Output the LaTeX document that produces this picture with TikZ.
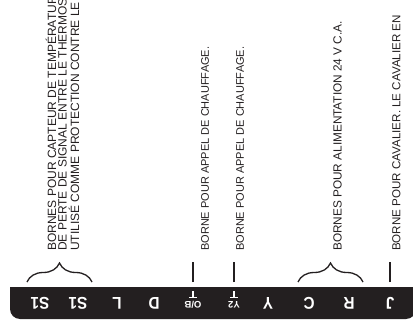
\documentclass[tikz,border=0pt]{standalone}
\usepackage{fontspec}
\setmainfont{Liberation Sans}
\usetikzlibrary{decorations.pathreplacing}
\definecolor{ink}{HTML}{231F20}
\newcommand\cnd[1]{\scalebox{0.9}[1]{#1}}
\begin{document}
\begin{tikzpicture}[x=1pt,y=1pt,
  desc/.style={rotate=90,anchor=west,inner sep=0pt,font=\fontsize{11.6}{13}\selectfont,text=ink},
  term/.style={rotate=180,inner sep=0pt,text=white,font=\fontsize{17}{19}\selectfont\bfseries},
  smallterm/.style={rotate=180,inner sep=0pt,text=white,font=\fontsize{9.5}{11}\selectfont\bfseries},
  tee/.style={draw=white,line width=1.4pt},
  conn/.style={draw=ink,line width=1.3pt},
  brc/.style={conn,decorate,decoration={brace,amplitude=19pt}}]
\useasboundingbox (0,0) rectangle (413,322);
\clip (0,0) rectangle (413,322);
% terminal strip
\fill[ink] (10,35) -- (416,35) -- (416,13) arc[start angle=0,end angle=-90,radius=10]
  -- (20,3) arc[start angle=270,end angle=180,radius=10] -- cycle;
% terminal labels
\node[term] (tS1a) at (40,19) {\cnd{S1}};
\node[term] (tS1b) at (78,19) {\cnd{S1}};
\node[term] (tL)   at (117,19) {\cnd{L}};
\node[term] (tD)   at (154,19) {\cnd{D}};
\node[smallterm] (tOB) at (193,17.5) {O/B};
\node[smallterm] (tY2) at (234,17.5) {Y2};
\node[term] (tY)   at (268,19) {\cnd{Y}};
\node[term] (tC)   at (309,19) {\cnd{C}};
\node[term] (tR)   at (349,19) {\cnd{R}};
\node[term] (tJ)   at (390,19) {\cnd{J}};
% tee marks above small labels
\coordinate (teebar) at (0,24.5);
\coordinate (teetop) at (0,31);
\draw[tee] (tOB |- teebar) -- (tOB |- teetop);
\draw[tee] ([xshift=-4pt]tOB |- teebar) -- ([xshift=4pt]tOB |- teebar);
\draw[tee] (tY2 |- teebar) -- (tY2 |- teetop);
\draw[tee] ([xshift=-4pt]tY2 |- teebar) -- ([xshift=4pt]tY2 |- teebar);
% descriptions
\node[desc,font=\fontsize{12}{13}\selectfont] (d1a) at (51,71) {BORNES POUR CAPTEUR DE TEMPÉRATURE};
\node[desc,font=\fontsize{12}{13}\selectfont] (d1b) at (62.5,71) {DE PERTE DE SIGNAL ENTRE LE THERMOSTAT};
\node[desc,font=\fontsize{12}{13}\selectfont] (d1c) at (74,71) {UTILISÉ COMME PROTECTION CONTRE LE};
\node[desc,font=\fontsize{11}{13}\selectfont] (dOB) at (205,71) {BORNE POUR APPEL DE CHAUFFAGE.};
\node[desc,font=\fontsize{11}{13}\selectfont] (dY2) at (240,71) {BORNE POUR APPEL DE CHAUFFAGE.};
\node[desc,font=\fontsize{11.8}{13}\selectfont] (dRC) at (337.5,71) {BORNES POUR ALIMENTATION 24 V C.A.};
\node[desc] (dJ)  at (396.5,71) {BORNE POUR CAVALIER. LE CAVALIER EN};
% connectors
\coordinate (base) at (0,40);
\coordinate (top) at (0,60);
\coordinate (bS1l) at (27,40);
\coordinate (bS1r) at (92,40);
\coordinate (bRCl) at (298,40);
\coordinate (bRCr) at (363,40);
\draw[brc] (bS1l) -- (bS1r);
\draw[brc] (bRCl) -- (bRCr);
\draw[conn] (tOB |- base) -- (tOB |- top);
\draw[conn] (tY2 |- base) -- (tY2 |- top);
\draw[conn] (tJ |- base) -- (tJ |- top);
\end{tikzpicture}
\end{document}
